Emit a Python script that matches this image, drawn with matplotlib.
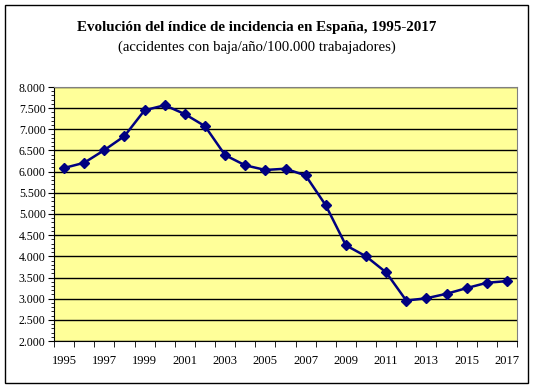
import numpy as np
import matplotlib.pyplot as plt
from matplotlib.patches import Rectangle
from matplotlib.ticker import MultipleLocator, FuncFormatter

plt.rcParams['font.family'] = ['Liberation Serif', 'DejaVu Serif']

# datos
anios = list(range(1995, 2018))
indice = [6087, 6210, 6510, 6840, 7450, 7570, 7360, 7075, 6390, 6150,
          6040, 6070, 5910, 5205, 4260, 4000, 3620, 2955, 3010, 3115,
          3250, 3375, 3415]
etiquetas = [str(a) if (a - 1995) % 2 == 0 else "" for a in anios]

fig = plt.figure(figsize=(5.37, 3.89), dpi=100)
W, H = 537, 389

# marco exterior
fig.patches.append(Rectangle((5 / W, 1 - 383 / H), 523 / W, 378 / H,
                             transform=fig.transFigure, fill=False,
                             edgecolor='black', linewidth=1.0))

ax = fig.add_axes([54 / W, 1 - 341 / H, 463 / W, 254 / H])
ax.set_facecolor('#FFFF99')

x = np.arange(len(anios))
ax.plot(x, indice, color='#000080', linewidth=1.8, marker='D',
        markersize=5, markerfacecolor='#000080', markeredgecolor='#000080',
        zorder=3)

ax.set_xlim(-0.5, len(anios) - 0.5)
ax.set_ylim(2000, 8000)

ax.yaxis.set_major_locator(MultipleLocator(500))
ax.yaxis.set_minor_locator(MultipleLocator(100))
ax.yaxis.set_major_formatter(FuncFormatter(lambda v, p: f"{int(v):,}".replace(",", ".")))
ax.grid(axis='y', which='major', color='black', linewidth=1.0)

ax.set_xticks(x)
ax.set_xticklabels(etiquetas)
ax.set_xticks(np.arange(-0.5, len(anios)), minor=True)
ax.tick_params(axis='x', which='major', length=0, pad=10, labelsize=9)
ax.tick_params(axis='x', which='minor', length=4, direction='out')
ax.tick_params(axis='y', which='major', length=4, direction='out', labelsize=8.5, pad=2)
ax.tick_params(axis='y', which='minor', length=2, direction='out')

for s in ['top', 'right']:
    ax.spines[s].set_color('#808080')
for s in ['left', 'bottom']:
    ax.spines[s].set_color('black')

fig.text(257 / W, 1 - 27 / H, "Evolución del índice de incidencia en España, 1995-2017",
         ha='center', va='center', fontsize=10.8, fontweight='bold')
fig.text(257 / W, 1 - 47 / H, "(accidentes con baja/año/100.000 trabajadores)",
         ha='center', va='center', fontsize=10.6)

fig.savefig("out.png", dpi=100)
